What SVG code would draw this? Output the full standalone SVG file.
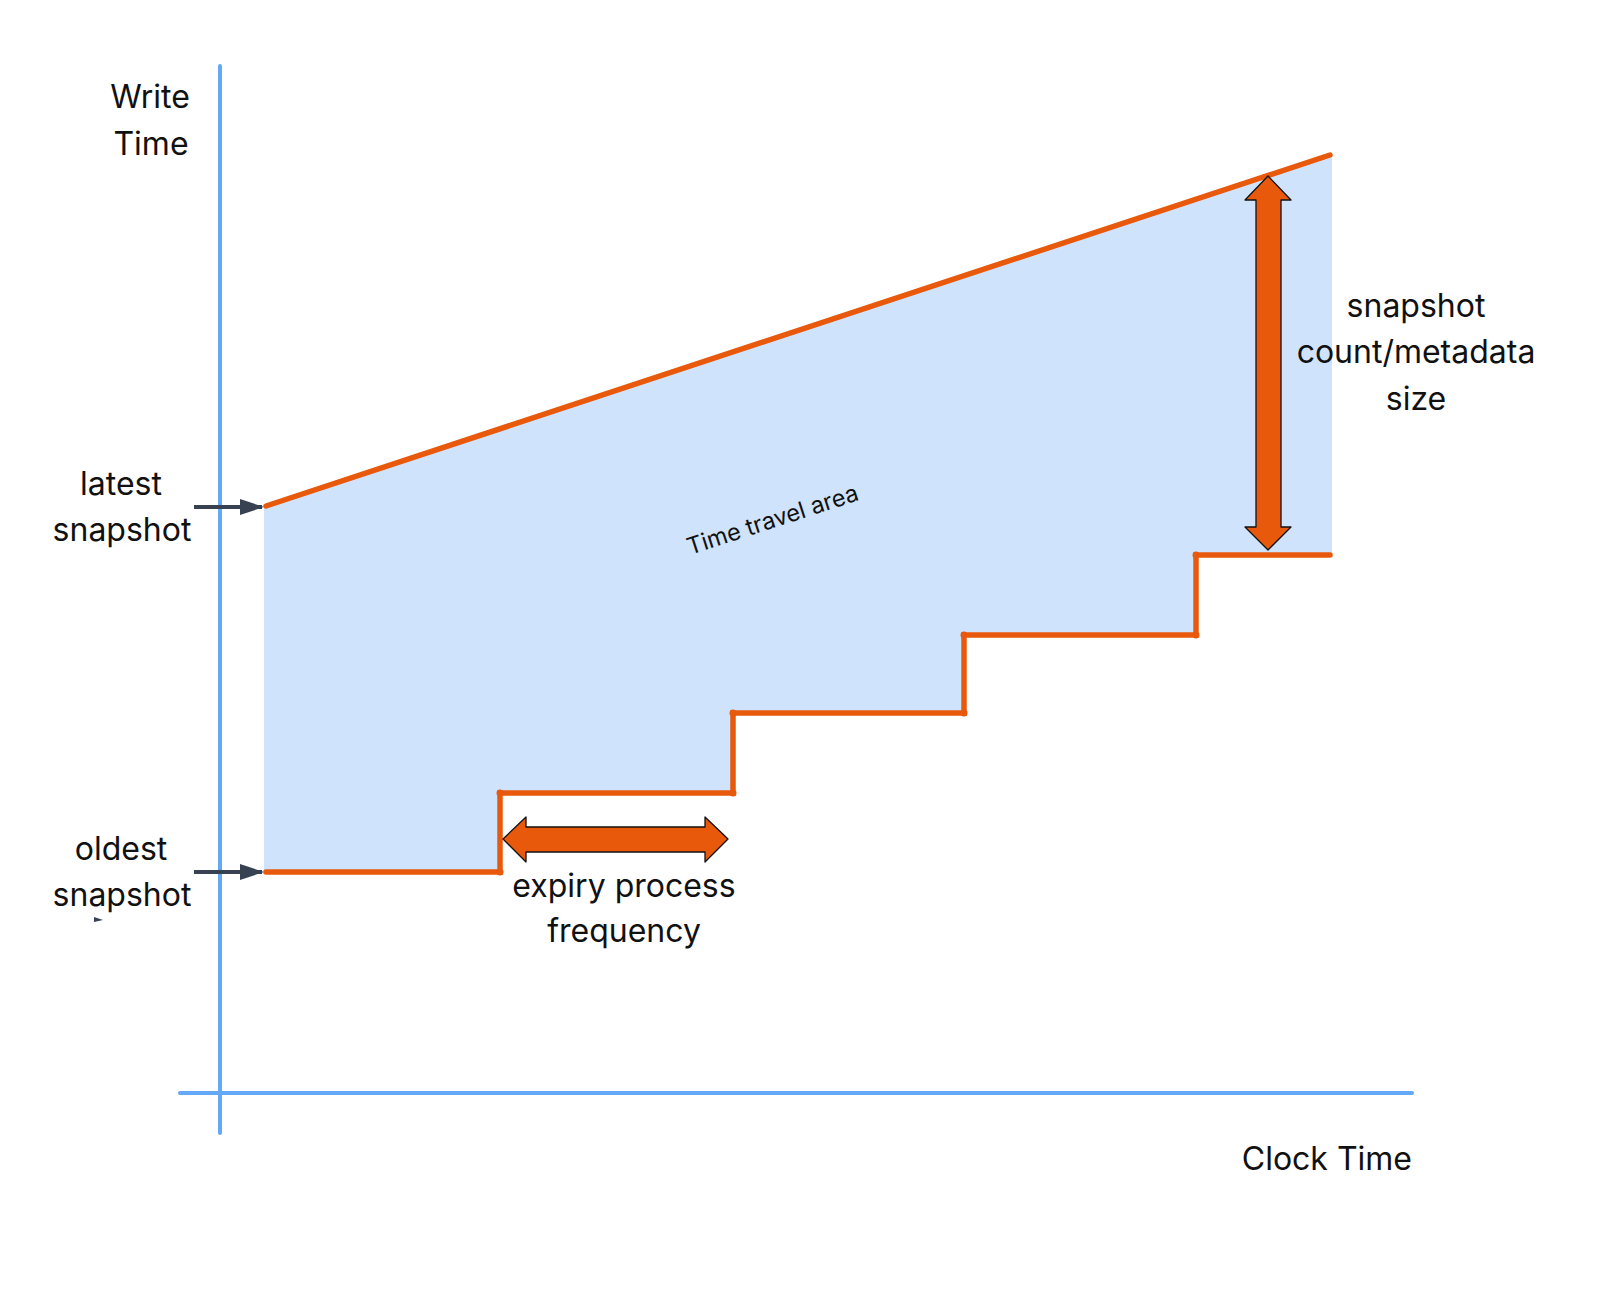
<svg xmlns="http://www.w3.org/2000/svg" width="1600" height="1290" viewBox="0 0 1600 1290">
<style>
.lbl{font-family:Inter,"Liberation Sans",sans-serif;font-size:32px;fill:#111;text-anchor:middle}
.axis{stroke:#64a9f7;stroke-width:4;stroke-linecap:round;fill:none}
.ora{stroke:#e8590c;stroke-width:5.5;stroke-linecap:round;stroke-linejoin:miter;fill:none}
.dot{fill:#e8590c}
.big{fill:#e8590c;stroke:#111;stroke-width:1.3;stroke-linejoin:round}
.ptr{stroke:#374151;stroke-width:4;fill:none}
</style>
<defs>
<marker id="ah" markerWidth="6" markerHeight="4" refX="5.5" refY="2" orient="auto" markerUnits="strokeWidth">
<path d="M0,0 L6,2 L0,4 Z" fill="#374151"/>
</marker>
</defs>
<rect width="1600" height="1290" fill="#fff"/>
<g id="area">
<polygon points="264,507 1332,155 1332,555 1196,555 1196,635 964,635 964,713 733,713 733,793 500,793 500,872 264,872" fill="#cfe3fc"/>
<text x="0" y="0" transform="translate(690,555) rotate(-18)" style="font-family:Inter,'Liberation Sans',sans-serif;font-size:23.5px;fill:#111">Time travel area</text>
</g>
<g id="axes">
<line class="axis" x1="220" y1="66" x2="220" y2="1133"/>
<line class="axis" x1="180" y1="1093" x2="1412" y2="1093"/>
</g>
<g id="latest-line">
<line class="ora" x1="266" y1="506" x2="1330" y2="155"/>
</g>
<g id="oldest-steps">
<polyline class="ora" points="266,872 500,872 500,793 733,793 733,713 964,713 964,635 1196,635 1196,555 1330,555"/>
<circle class="dot" cx="500" cy="872" r="3.5"/>
<circle class="dot" cx="500" cy="793" r="3.5"/>
<circle class="dot" cx="733" cy="793" r="3.5"/>
<circle class="dot" cx="733" cy="713" r="3.5"/>
<circle class="dot" cx="964" cy="713" r="3.5"/>
<circle class="dot" cx="964" cy="635" r="3.5"/>
<circle class="dot" cx="1196" cy="635" r="3.5"/>
<circle class="dot" cx="1196" cy="555" r="3.5"/>
</g>
<g id="connectors">
<line class="ptr" x1="194" y1="507" x2="262" y2="507" marker-end="url(#ah)"/>
<line class="ptr" x1="194" y1="872" x2="262" y2="872" marker-end="url(#ah)"/>
<polygon points="94,917 103,920 94,922" fill="#374151"/>
</g>
<g id="expiry-arrow">
<path class="big" d="M503,839 L526,817 L526,827 L705,827 L705,817 L728,839 L705,862 L705,852 L526,852 L526,862 Z"/>
</g>
<g id="size-arrow">
<path class="big" d="M1268,176 L1291,200 L1281,200 L1281,527 L1291,527 L1268,550 L1245,527 L1256,527 L1256,200 L1245,200 Z"/>
</g>
<g id="labels">
<text class="lbl" x="150" y="108">Write</text>
<text class="lbl" x="151" y="155">Time</text>
<text class="lbl" x="121" y="495">latest</text>
<text class="lbl" x="122" y="541">snapshot</text>
<text class="lbl" x="121" y="860">oldest</text>
<text class="lbl" x="122" y="906">snapshot</text>
<text class="lbl" x="624" y="897">expiry process</text>
<text class="lbl" x="624" y="942">frequency</text>
<text class="lbl" x="1416" y="317">snapshot</text>
<text class="lbl" x="1416" y="363">count/metadata</text>
<text class="lbl" x="1416" y="410">size</text>
<text class="lbl" x="1412" y="1170" style="text-anchor:end">Clock Time</text>
</g>
</svg>
